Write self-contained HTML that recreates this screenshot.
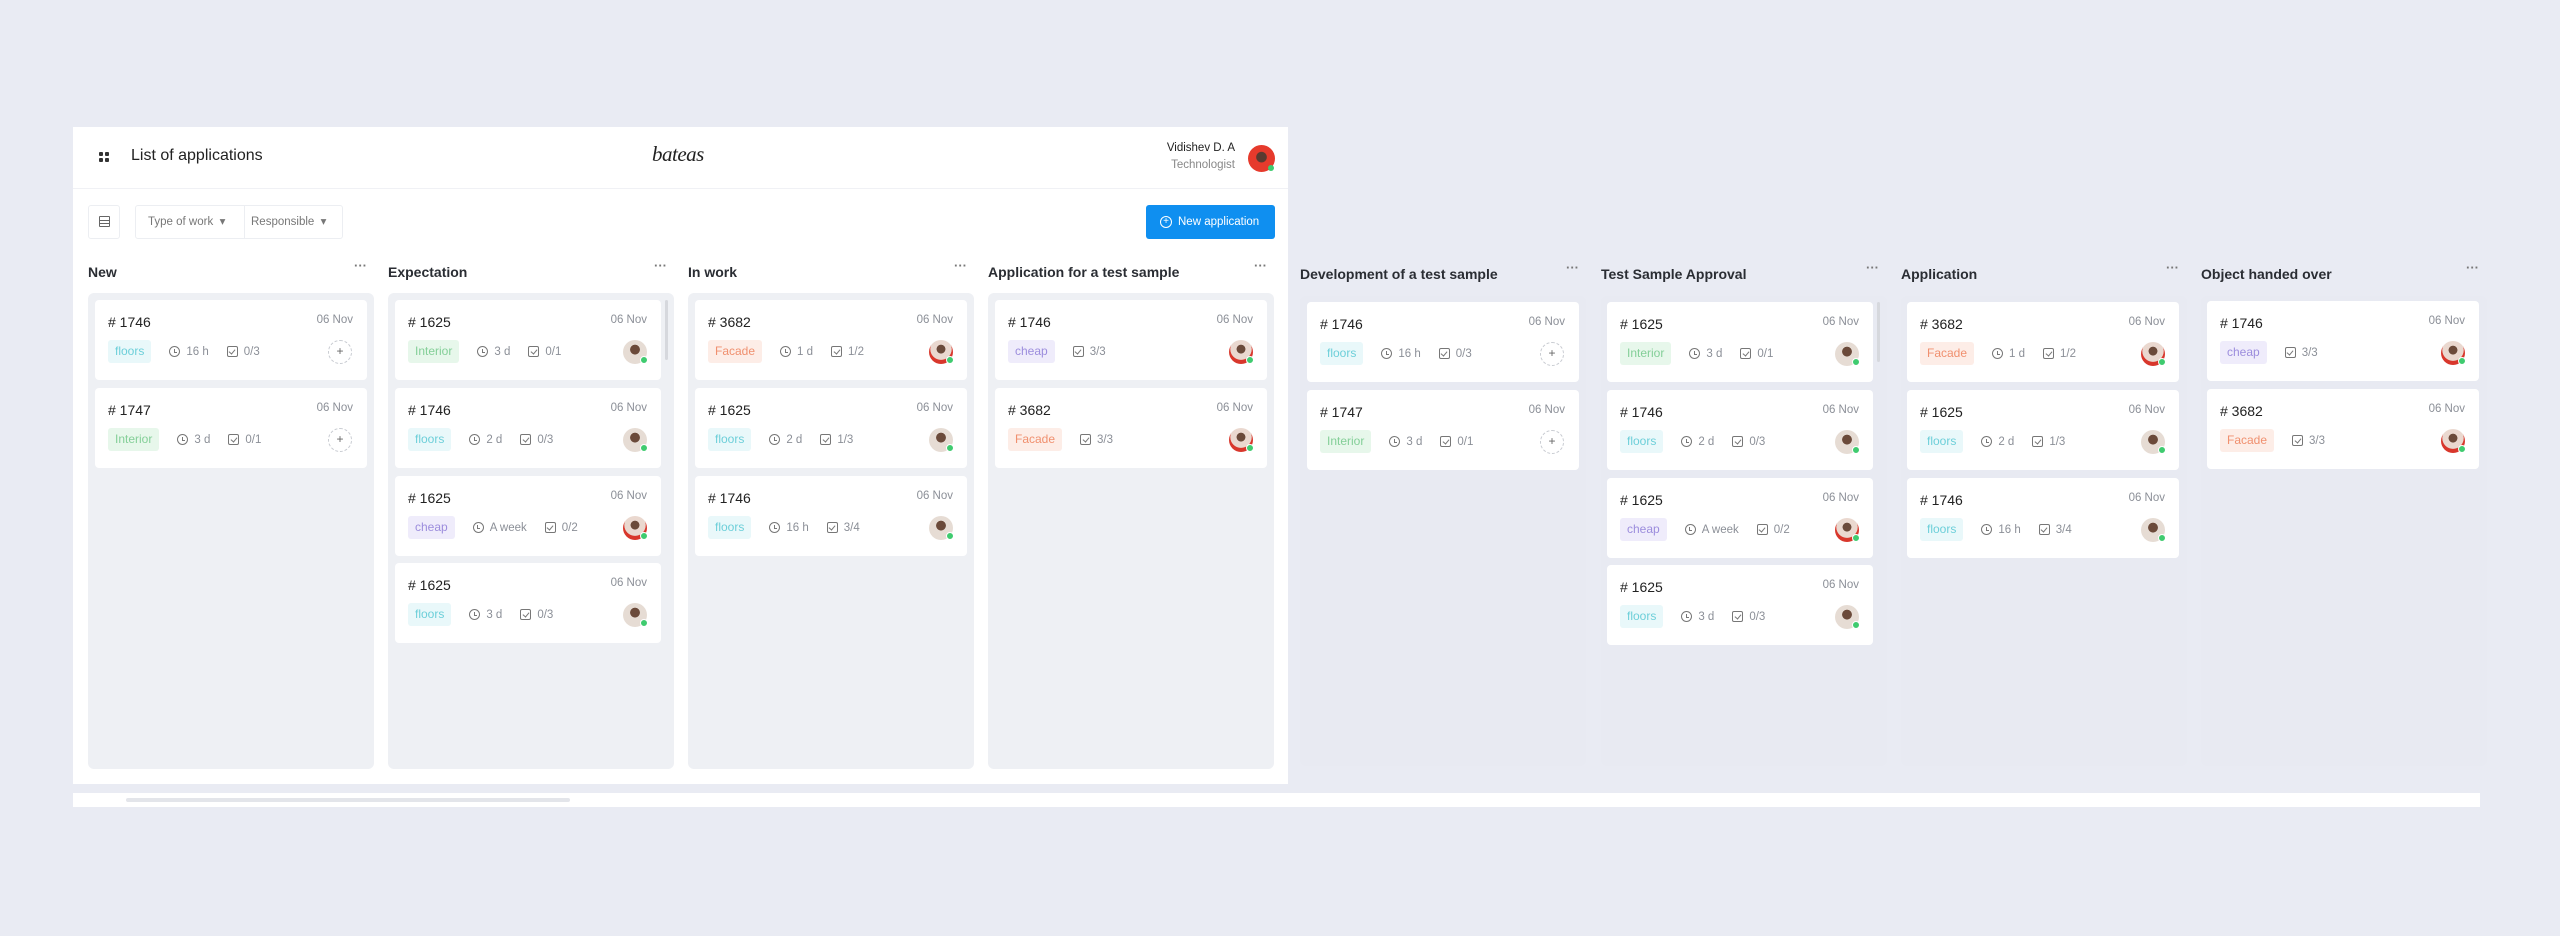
<!DOCTYPE html>
<html><head><meta charset="utf-8"><style>
*{box-sizing:border-box;margin:0;padding:0}
body{width:2560px;height:936px;background:#e9ebf3;font-family:"Liberation Sans",sans-serif;position:relative;overflow:hidden;color:#222}
.abs{position:absolute}
.panel{left:73px;top:127px;width:1215px;height:657px;background:#fff}
.hline{left:73px;top:188px;width:1215px;height:1px;background:#f0f1f5}
.strip{left:73px;top:793px;width:2407px;height:14px;background:#fff}
.thumb{left:126px;top:798px;width:444px;height:4px;background:#e3e5ea;border-radius:2px}
.colbg{position:absolute;width:286px;height:476px;border-radius:6px;background:#eef0f4}
.colbg.o{background:#e8eaf2;height:470px}
.ct{position:absolute;font-size:14px;font-weight:bold;color:#2a2d33}
.dots{position:absolute;font-size:13px;color:#777;letter-spacing:0px;font-weight:bold}
.card{position:absolute;width:272px;height:80px;background:#fff;border-radius:4px}
.card.n{width:266px}
.num{position:absolute;left:13px;top:14px;font-size:14px;color:#222}
.date{position:absolute;right:14px;top:14px;font-size:11.5px;color:#8b8f97}
.row{position:absolute;left:13px;top:40px;height:23px;display:flex;align-items:center;font-size:11.5px;color:#8b8f97}
.tag{height:23px;line-height:23px;padding:0 7px;border-radius:3px;margin-right:18px;font-size:12px}
.floors{background:#e9f8fa;color:#6dcfd9}
.Interior{background:#e7f7eb;color:#84cf98}
.Facade{background:#fdede7;color:#f0906f}
.cheap{background:#efecfb;color:#9c8ddd}
.ic{display:inline-block;width:11px;height:11px;border:1.3px solid #777;margin-right:6px;position:relative}
.clk{border-radius:50%}
.clk:after{content:"";position:absolute;left:3.5px;top:1.5px;width:2px;height:3px;border-left:1.2px solid #777;border-bottom:1.2px solid #777}
.chk{border-radius:2px}
.chk:after{content:"";position:absolute;left:2.5px;top:1px;width:3px;height:5px;border-right:1.2px solid #777;border-bottom:1.2px solid #777;transform:rotate(40deg)}
.m{margin-right:18px}
.plus{position:absolute;right:15px;top:40px;width:24px;height:24px;border:1px dashed #c8cbd1;border-radius:50%;text-align:center;line-height:21px;font-size:12px;color:#666}
.av{position:absolute;right:14px;top:40px;width:24px;height:24px;border-radius:50%;background:radial-gradient(circle at 50% 40%,#6b4a3a 0 25%,#e6dcd4 27%)}
.av.w{background:radial-gradient(circle at 50% 38%,#6b4a3a 0 22%,#ead8cf 24% 55%,#d8372c 57%)}
.av:after{content:"";position:absolute;right:-1px;bottom:0;width:6px;height:6px;border-radius:50%;background:#3fcb6f;border:1px solid #fff}
.sb{position:absolute;width:3px;height:60px;background:#d6d8dd;border-radius:2px}
</style></head><body>
<div class="abs panel"></div>
<div class="abs hline"></div>
<div class="abs strip"></div>
<div class="abs thumb"></div>

<div class="abs" style="left:99px;top:152px;width:10px;height:10px">
 <div class="abs" style="left:0;top:0;width:4px;height:4px;background:#333;border-radius:1px"></div>
 <div class="abs" style="left:6px;top:0;width:4px;height:4px;background:#333;border-radius:1px"></div>
 <div class="abs" style="left:0;top:6px;width:4px;height:4px;background:#333;border-radius:1px"></div>
 <div class="abs" style="left:6px;top:6px;width:4px;height:4px;background:#333;border-radius:1px"></div>
</div>
<div class="abs" style="left:131px;top:147px;font-size:16px;color:#222">List of applications</div>
<div class="abs" style="left:652px;top:142px;font-size:21px;font-family:'Liberation Serif',serif;font-style:italic;color:#222;letter-spacing:-0.5px">bateas</div>
<div class="abs" style="right:1325px;top:142px;font-size:11.5px;color:#222;text-align:right">Vidishev D. A</div>
<div class="abs" style="right:1325px;top:159px;font-size:11.5px;color:#888;text-align:right">Technologist</div>
<div class="abs" style="left:1248px;top:145px;width:27px;height:27px;border-radius:50%;background:radial-gradient(circle at 50% 45%,#5a3a30 0 25%,#e63a2c 28%)"></div>
<div class="abs" style="left:1268px;top:165px;width:6px;height:6px;border-radius:50%;background:#3fcb6f"></div>

<div class="abs" style="left:88px;top:205px;width:32px;height:34px;border:1px solid #eceef2;border-radius:3px"></div>
<div class="abs" style="left:99px;top:216px;width:11px;height:11px;border:1.3px solid #666;border-radius:1px;background:linear-gradient(#666,#666) 0 3px/100% 1px no-repeat,linear-gradient(#666,#666) 0 6px/100% 1px no-repeat"></div>
<div class="abs" style="left:135px;top:205px;width:208px;height:34px;border:1px solid #eceef2;border-radius:3px"></div>
<div class="abs" style="left:244px;top:205px;width:1px;height:34px;background:#eceef2"></div>
<div class="abs" style="left:148px;top:214px;font-size:11.5px;color:#777">Type of work &nbsp;▾</div>
<div class="abs" style="left:251px;top:214px;font-size:11.5px;color:#777">Responsible &nbsp;▾</div>
<div class="abs" style="left:1146px;top:205px;width:129px;height:34px;background:#0f8ff0;border-radius:3px;color:#fff;font-size:11.5px;line-height:34px;padding-left:32px">New application</div>
<div class="abs" style="left:1160px;top:216px;width:12px;height:12px;border:1.3px solid #fff;border-radius:50%;color:#fff;font-size:10px;line-height:9px;text-align:center">+</div>

<div class="colbg" style="left:88px;top:293px"></div>
<div class="colbg" style="left:388px;top:293px"></div>
<div class="colbg" style="left:688px;top:293px"></div>
<div class="colbg" style="left:988px;top:293px"></div>
<div class="colbg o" style="left:1300px;top:296px"></div>
<div class="colbg o" style="left:1601px;top:296px"></div>
<div class="colbg o" style="left:1901px;top:296px"></div>
<div class="colbg o" style="left:2201px;top:296px"></div>

<div class="ct" style="left:88px;top:264px">New</div><div class="dots" style="left:354px;top:258px">···</div>
<div class="ct" style="left:388px;top:264px">Expectation</div><div class="dots" style="left:654px;top:258px">···</div>
<div class="ct" style="left:688px;top:264px">In work</div><div class="dots" style="left:954px;top:258px">···</div>
<div class="ct" style="left:988px;top:264px">Application for a test sample</div><div class="dots" style="left:1254px;top:258px">···</div>
<div class="ct" style="left:1300px;top:266px">Development of a test sample</div><div class="dots" style="left:1566px;top:260px">···</div>
<div class="ct" style="left:1601px;top:266px">Test Sample Approval</div><div class="dots" style="left:1866px;top:260px">···</div>
<div class="ct" style="left:1901px;top:266px">Application</div><div class="dots" style="left:2166px;top:260px">···</div>
<div class="ct" style="left:2201px;top:266px">Object handed over</div><div class="dots" style="left:2466px;top:260px">···</div>

<div class="sb" style="left:665px;top:300px"></div>
<div class="sb" style="left:1877px;top:302px"></div>

<div class="card" style="left:95px;top:300px"><div class="num"># 1746</div><div class="date">06 Nov</div><div class="row"><span class="tag floors">floors</span><i class="ic clk"></i><span class="m">16 h</span><i class="ic chk"></i><span>0/3</span></div><div class="plus">+</div></div>
<div class="card" style="left:95px;top:388px"><div class="num"># 1747</div><div class="date">06 Nov</div><div class="row"><span class="tag Interior">Interior</span><i class="ic clk"></i><span class="m">3 d</span><i class="ic chk"></i><span>0/1</span></div><div class="plus">+</div></div>

<div class="card n" style="left:395px;top:300px"><div class="num"># 1625</div><div class="date">06 Nov</div><div class="row"><span class="tag Interior">Interior</span><i class="ic clk"></i><span class="m">3 d</span><i class="ic chk"></i><span>0/1</span></div><div class="av"></div></div>
<div class="card n" style="left:395px;top:388px"><div class="num"># 1746</div><div class="date">06 Nov</div><div class="row"><span class="tag floors">floors</span><i class="ic clk"></i><span class="m">2 d</span><i class="ic chk"></i><span>0/3</span></div><div class="av"></div></div>
<div class="card n" style="left:395px;top:476px"><div class="num"># 1625</div><div class="date">06 Nov</div><div class="row"><span class="tag cheap">cheap</span><i class="ic clk"></i><span class="m">A week</span><i class="ic chk"></i><span>0/2</span></div><div class="av w"></div></div>
<div class="card n" style="left:395px;top:563px"><div class="num"># 1625</div><div class="date">06 Nov</div><div class="row"><span class="tag floors">floors</span><i class="ic clk"></i><span class="m">3 d</span><i class="ic chk"></i><span>0/3</span></div><div class="av"></div></div>

<div class="card" style="left:695px;top:300px"><div class="num"># 3682</div><div class="date">06 Nov</div><div class="row"><span class="tag Facade">Facade</span><i class="ic clk"></i><span class="m">1 d</span><i class="ic chk"></i><span>1/2</span></div><div class="av w"></div></div>
<div class="card" style="left:695px;top:388px"><div class="num"># 1625</div><div class="date">06 Nov</div><div class="row"><span class="tag floors">floors</span><i class="ic clk"></i><span class="m">2 d</span><i class="ic chk"></i><span>1/3</span></div><div class="av"></div></div>
<div class="card" style="left:695px;top:476px"><div class="num"># 1746</div><div class="date">06 Nov</div><div class="row"><span class="tag floors">floors</span><i class="ic clk"></i><span class="m">16 h</span><i class="ic chk"></i><span>3/4</span></div><div class="av"></div></div>

<div class="card" style="left:995px;top:300px"><div class="num"># 1746</div><div class="date">06 Nov</div><div class="row"><span class="tag cheap">cheap</span><i class="ic chk"></i><span>3/3</span></div><div class="av w"></div></div>
<div class="card" style="left:995px;top:388px"><div class="num"># 3682</div><div class="date">06 Nov</div><div class="row"><span class="tag Facade">Facade</span><i class="ic chk"></i><span>3/3</span></div><div class="av w"></div></div>

<div class="card" style="left:1307px;top:302px"><div class="num"># 1746</div><div class="date">06 Nov</div><div class="row"><span class="tag floors">floors</span><i class="ic clk"></i><span class="m">16 h</span><i class="ic chk"></i><span>0/3</span></div><div class="plus">+</div></div>
<div class="card" style="left:1307px;top:390px"><div class="num"># 1747</div><div class="date">06 Nov</div><div class="row"><span class="tag Interior">Interior</span><i class="ic clk"></i><span class="m">3 d</span><i class="ic chk"></i><span>0/1</span></div><div class="plus">+</div></div>

<div class="card n" style="left:1607px;top:302px"><div class="num"># 1625</div><div class="date">06 Nov</div><div class="row"><span class="tag Interior">Interior</span><i class="ic clk"></i><span class="m">3 d</span><i class="ic chk"></i><span>0/1</span></div><div class="av"></div></div>
<div class="card n" style="left:1607px;top:390px"><div class="num"># 1746</div><div class="date">06 Nov</div><div class="row"><span class="tag floors">floors</span><i class="ic clk"></i><span class="m">2 d</span><i class="ic chk"></i><span>0/3</span></div><div class="av"></div></div>
<div class="card n" style="left:1607px;top:478px"><div class="num"># 1625</div><div class="date">06 Nov</div><div class="row"><span class="tag cheap">cheap</span><i class="ic clk"></i><span class="m">A week</span><i class="ic chk"></i><span>0/2</span></div><div class="av w"></div></div>
<div class="card n" style="left:1607px;top:565px"><div class="num"># 1625</div><div class="date">06 Nov</div><div class="row"><span class="tag floors">floors</span><i class="ic clk"></i><span class="m">3 d</span><i class="ic chk"></i><span>0/3</span></div><div class="av"></div></div>

<div class="card" style="left:1907px;top:302px"><div class="num"># 3682</div><div class="date">06 Nov</div><div class="row"><span class="tag Facade">Facade</span><i class="ic clk"></i><span class="m">1 d</span><i class="ic chk"></i><span>1/2</span></div><div class="av w"></div></div>
<div class="card" style="left:1907px;top:390px"><div class="num"># 1625</div><div class="date">06 Nov</div><div class="row"><span class="tag floors">floors</span><i class="ic clk"></i><span class="m">2 d</span><i class="ic chk"></i><span>1/3</span></div><div class="av"></div></div>
<div class="card" style="left:1907px;top:478px"><div class="num"># 1746</div><div class="date">06 Nov</div><div class="row"><span class="tag floors">floors</span><i class="ic clk"></i><span class="m">16 h</span><i class="ic chk"></i><span>3/4</span></div><div class="av"></div></div>

<div class="card" style="left:2207px;top:301px"><div class="num"># 1746</div><div class="date">06 Nov</div><div class="row"><span class="tag cheap">cheap</span><i class="ic chk"></i><span>3/3</span></div><div class="av w"></div></div>
<div class="card" style="left:2207px;top:389px"><div class="num"># 3682</div><div class="date">06 Nov</div><div class="row"><span class="tag Facade">Facade</span><i class="ic chk"></i><span>3/3</span></div><div class="av w"></div></div>
</body></html>
